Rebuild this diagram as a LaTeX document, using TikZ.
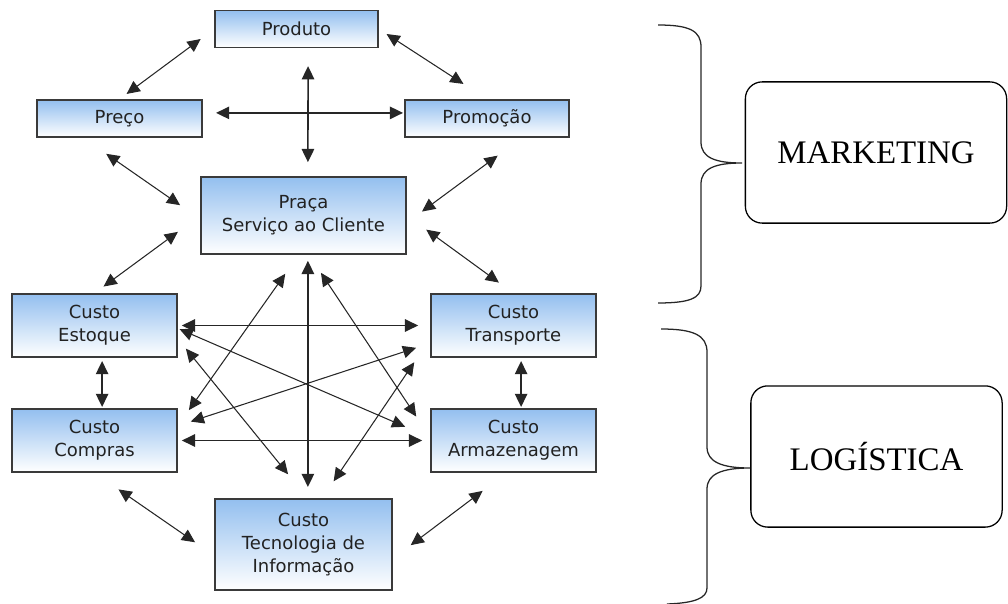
\documentclass[tikz,border=0pt]{standalone}
\usepackage{fontspec}
\usepackage{tikz}
\usetikzlibrary{arrows.meta}
\setmainfont{Liberation Serif}
\newfontfamily\boxfont{DejaVu Sans}
\definecolor{boxblue}{HTML}{93BFEF}
\definecolor{boxedge}{HTML}{3A3A3A}
\definecolor{boxtext}{HTML}{222222}
\tikzset{
  mixbox/.style={
    draw=boxedge,
    top color=boxblue,
    bottom color=white,
    line width=1pt,
    align=center,
    inner sep=0pt,
    text=boxtext,
    font=\boxfont\fontsize{12.8pt}{16.6pt}\selectfont
  },
  areabox/.style={
    draw=black,
    rounded corners=0.42cm,
    line width=0.9pt,
    align=center,
    font=\fontsize{23.4pt}{28pt}\selectfont
  },
  mixlink/.style={
    {Triangle[length=3.3mm,width=3.1mm]}-{Triangle[length=3.3mm,width=3.1mm]},
    line width=0.75pt,
    draw=black!85
  },
  mainlink/.style={
    mixlink,
    line width=1.1pt
  },
  bracket/.style={
    line width=0.9pt,
    draw=black!85
  }
}

\begin{document}
\begin{tikzpicture}[x=0.025cm,y=-0.025cm]
  \useasboundingbox (0,0) rectangle (1008,604);

  % marketing mix
  \node[mixbox, minimum width=4.08cm, minimum height=0.92cm] (produto) at (296.5,29) {Produto};
  \node[mixbox, minimum width=4.13cm, minimum height=0.93cm] (preco) at (119.5,118.5) {Preço};
  \node[mixbox, minimum width=4.1cm, minimum height=0.93cm] (promocao) at (487,118.5) {Promoção};
  \node[mixbox, minimum width=5.13cm, minimum height=1.93cm] (praca) at (303.5,215.5) {Praça\\Serviço ao Cliente};

  % logistics costs
  \node[mixbox, minimum width=4.13cm, minimum height=1.58cm] (estoque) at (94.5,325.5) {Custo\\Estoque};
  \node[mixbox, minimum width=4.13cm, minimum height=1.58cm] (transporte) at (513.5,325.5) {Custo\\Transporte};
  \node[mixbox, minimum width=4.13cm, minimum height=1.58cm] (compras) at (94.5,440.5) {Custo\\Compras};
  \node[mixbox, minimum width=4.13cm, minimum height=1.58cm] (armazenagem) at (513.5,440.5) {Custo\\Armazenagem};
  \node[mixbox, minimum width=4.43cm, minimum height=2.28cm] (tecnologia) at (303.5,544.5) {Custo\\Tecnologia de\\Informação};

  % areas
  \node[areabox, minimum width=6.53cm, minimum height=3.53cm] (marketing) at (876,152.5) {MARKETING};
  \node[areabox, minimum width=6.28cm, minimum height=3.53cm] (logistica) at (876.5,456.5) {LOGÍSTICA};

  \draw[bracket] (658,25) .. controls (690,25) and (701,31) .. (701,47) -- (701,142)
    .. controls (701,158) and (716,163) .. (742,163)
    .. controls (716,163) and (701,168) .. (701,184) -- (701,286)
    .. controls (701,298) and (690,303) .. (658,303);
  \draw[bracket] (661,329) .. controls (693,329) and (707,335) .. (707,352) -- (707,447)
    .. controls (707,462) and (722,468) .. (750,468)
    .. controls (722,468) and (707,474) .. (707,489) -- (707,588)
    .. controls (707,598) and (695,603) .. (667,604);

  % links of the mix
  \draw[mixlink, shorten <=0.42cm, shorten >=0.22cm] (produto.west) -- (preco.north);
  \draw[mixlink, shorten <=0.23cm, shorten >=0.7cm] (produto.east) -- (promocao.north);
  \draw[mainlink, shorten <=0.33cm, shorten >=0.03cm] ([yshift=0.14cm]preco.east) -- ([yshift=0.14cm]promocao.west);
  \draw[mainlink, shorten <=0.45cm, shorten >=0.35cm] ([xshift=0.29cm]produto.south) -- ([xshift=0.11cm]praca.north);
  \draw[mixlink, shorten <=0.7cm, shorten >=0.61cm] (preco.208) -- (praca.182);
  \draw[mixlink, shorten <=0.75cm, shorten >=0.47cm] (promocao.-29) -- (praca.-4);
  \draw[mixlink, shorten <=0.69cm, shorten >=0.28cm] (praca.west) -- (estoque.north);
  \draw[mixlink, shorten <=0.6cm, shorten >=0.45cm] (praca.east) -- (transporte.north);

  % links between costs
  \draw[mainlink, shorten <=0.1cm, shorten >=0.3cm] (estoque.east) -- (transporte.west);
  \draw[mainlink, shorten <=0.1cm, shorten >=0.2cm] (compras.east) -- (armazenagem.west);
  \draw[mainlink, shorten <=0.08cm, shorten >=0.03cm] ([xshift=0.19cm]estoque.south) -- ([xshift=0.19cm]compras.north);
  \draw[mainlink, shorten <=0.08cm, shorten >=0.03cm] ([xshift=0.19cm]transporte.south) -- ([xshift=0.19cm]armazenagem.north);
  \draw[mainlink, shorten <=0.15cm, shorten >=0.28cm] ([xshift=0.11cm]praca.south) -- ([xshift=0.11cm]tecnologia.north);
  \draw[mixlink, shorten <=0.58cm, shorten >=0.48cm] (praca.263) -- (compras.10);
  \draw[mixlink, shorten <=0.54cm, shorten >=0.63cm] (praca.-82) -- (armazenagem.178);
  \draw[mixlink, shorten <=0.05cm, shorten >=0.68cm] (estoque.-2) -- (armazenagem.178);
  \draw[mixlink, shorten <=0.34cm, shorten >=0.37cm] (compras.10) -- (transporte.192);
  \draw[mixlink, shorten <=0.32cm, shorten >=0.77cm] (estoque.-9) -- (tecnologia.85);
  \draw[mixlink, shorten <=0.71cm, shorten >=0.51cm] (transporte.189) -- (tecnologia.68);
  \draw[mixlink, shorten <=0.73cm, shorten >=0.58cm] (compras.south) -- (tecnologia.187);
  \draw[mixlink, shorten <=0.75cm, shorten >=0.56cm] (armazenagem.258) -- (tecnologia.-9);
\end{tikzpicture}
\end{document}
